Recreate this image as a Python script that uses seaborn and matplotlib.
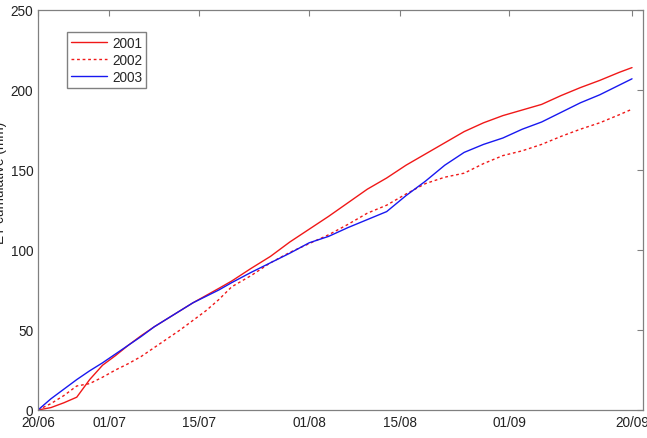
import matplotlib
import numpy as np
import pandas as pd
import seaborn as sns
from matplotlib import pyplot as plt

matplotlib.use('Agg')

# days after 20/06
days = [0, 2, 4, 6, 8, 10, 12, 14, 16, 18, 20, 22, 24, 26, 28, 30, 33, 36, 39, 42, 45,
        48, 51, 54, 57, 60, 63, 66, 69, 72, 75, 78, 81, 84, 87, 90, 92]

et_2001 = [0, 1.5, 4.5, 8, 19, 28, 34, 40.5, 46.5, 52, 57, 62, 67, 71.5, 76, 80.6, 88.5, 96,
           105, 113, 121, 129.5, 138, 145, 153, 160, 167, 174, 179.5, 184, 187.5, 191, 196.5,
           201.5, 206, 211, 214]
et_2002 = [0, 4, 9, 15, 16.5, 20.5, 25, 29, 33.5, 39, 44.5, 50, 56, 62, 69, 77, 84, 92,
           98.5, 104, 109.5, 116, 123, 128, 135, 141.5, 145.5, 148, 154, 159, 162, 166, 171,
           175.5, 179.5, 184.5, 188]
et_2003 = [0, 7, 13, 19, 24.5, 29.5, 35, 40.5, 46, 52, 57, 62, 67, 71, 75, 79.6, 86, 92,
           98, 104.5, 108.5, 114, 119, 124, 134, 143, 153, 161, 166, 170, 175.5, 180, 186,
           192, 197, 203, 207]

years = ['2001', '2002', '2003']
tick_days = [0, 11, 25, 42, 56, 73, 92]
tick_labels = ['20/06', '01/07', '15/07', '01/08', '15/08', '01/09', '20/09']

df = pd.concat([
    pd.DataFrame({'day': days, 'et': vals, 'year': yr})
    for yr, vals in zip(years, [et_2001, et_2002, et_2003])
])

sns.set_theme(style='white')
plt.rcParams['font.family'] = ['Liberation Sans', 'DejaVu Sans']
FS = 9.8

fig = plt.figure(figsize=(6.47, 4.39), dpi=100)
ax = fig.add_axes([38 / 647, 1 - 411 / 439, 605 / 647, 400 / 439])

sns.lineplot(data=df, x='day', y='et', hue='year', style='year',
             palette={'2001': '#f01818', '2002': '#f01818', '2003': '#1818f0'},
             dashes={'2001': '', '2002': (2, 2), '2003': ''},
             linewidth=1.0, ax=ax)

ax.set_xlim(0, 93.7)
ax.set_ylim(0, 250)
ax.set_xticks(tick_days)
ax.set_xticklabels(tick_labels)
ax.set_yticks(np.arange(0, 251, 50))
ax.tick_params(direction='in', length=4, width=0.8, color='#808080', labelsize=FS,
               labelcolor='#222222', top=True, right=True, pad=3.5)
for s in ax.spines.values():
    s.set_color('#808080')
    s.set_linewidth(0.9)

ax.set_xlabel('')
ax.set_ylabel('ET cumulative (mm)', fontsize=FS, color='#222222')
ax.yaxis.set_label_coords(-0.051, 0.57)

ax.legend(loc='upper left', bbox_to_anchor=(0.048, 0.945), fontsize=FS,
          frameon=True, fancybox=False, edgecolor='#808080', framealpha=1,
          handlelength=2.6, handletextpad=0.4, borderpad=0.3, labelspacing=0.22,
          borderaxespad=0)

fig.savefig('out.png', dpi=100)
